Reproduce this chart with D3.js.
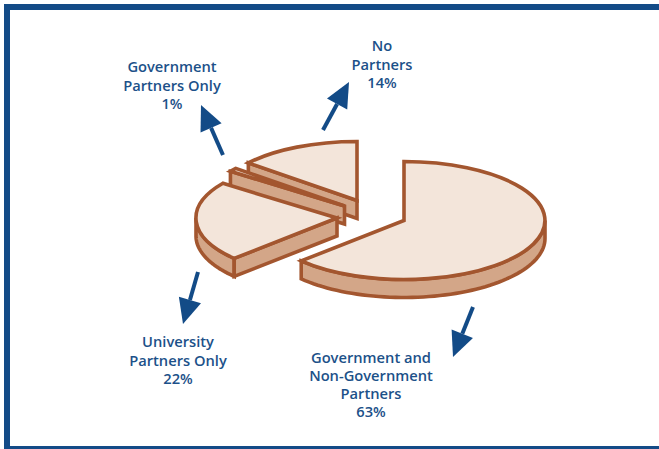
<!DOCTYPE html>
<html>
<head>
<meta charset="utf-8">
<script src="https://cdn.jsdelivr.net/npm/d3@7/dist/d3.min.js"></script>
<style>
  html, body { margin: 0; padding: 0; background: #fff; }
  svg { display: block; }
  text { font-family: "Open Sans", sans-serif; font-weight: 600; font-size: 14.7px; fill: #1c5189; text-anchor: middle; }
</style>
</head>
<body>
<svg id="chart" width="659" height="449"></svg>
<script>
// Share of projects by partner type, clockwise from twelve o'clock
const categories = ["Government and Non-Government Partners", "University Partners Only", "Government Partners Only", "No Partners"];
const shares = [63, 22, 1, 14];
const labelLines = [
  ["Government and", "Non-Government", "Partners", "63%"],
  ["University", "Partners Only", "22%"],
  ["Government", "Partners Only", "1%"],
  ["No", "Partners", "14%"]
];

// Layout of the exploded disc
const rx = 141, ry = 59, depth = 18;
const apexes = [[404, 220.5], [337, 218], [344.5, 206], [357, 200.5]];
const labelAnchors = [[371, 363], [178, 347], [172, 72], [382, 51]];
const arrows = [
  { tail: [473, 307], tip: [453, 357] },
  { tail: [198, 272], tip: [183, 324] },
  { tail: [223, 155], tip: [201, 105] },
  { tail: [323, 130], tip: [349, 82] }
];

const INK = "#a3562f", TOP = "#f3e5da", WALL = "#d3a688", BLUE = "#134b87";
const EDGE = 3.6;

const svg = d3.select("#chart");

// Frame: left, top and bottom rules only
svg.append("path")
  .attr("d", "M7,449V7H659")
  .attr("fill", "none").attr("stroke", BLUE).attr("stroke-width", 6);
svg.append("line").attr("x1", 4).attr("x2", 659).attr("y1", 447.5).attr("y2", 447.5)
  .attr("stroke", BLUE).attr("stroke-width", 3);

const slices = d3.pie().sort(null).value(d => d)(shares);
const arcUnit = d3.arc().innerRadius(0).outerRadius(1);
const rim = (cx, cy, a, dy = 0) => [cx + rx * Math.sin(a), cy - ry * Math.cos(a) + dy];
const outline = d3.line();

// Back-to-front painting: last slice sits furthest from the viewer
d3.range(slices.length - 1, -1, -1).forEach(i => {
  const s = slices[i];
  const [cx, cy] = apexes[i];
  const g = svg.append("g").attr("class", "slice").datum(categories[i]);
  const wallStyle = sel => sel.attr("fill", WALL).attr("stroke", INK)
    .attr("stroke-width", EDGE).attr("stroke-linejoin", "miter");

  // Outer curved wall, only where the rim faces the viewer
  const a0 = Math.max(s.startAngle, Math.PI / 2);
  const a1 = Math.min(s.endAngle, 3 * Math.PI / 2);
  if (a1 > a0) {
    const steps = d3.range(0, 61).map(k => a0 + (a1 - a0) * k / 60);
    const pts = steps.map(a => rim(cx, cy, a)).concat(steps.slice().reverse().map(a => rim(cx, cy, a, depth)));
    g.append("path").attr("d", outline(pts) + "Z").call(wallStyle);
  }

  // Flat cut faces that turn toward the viewer
  [[s.startAngle, Math.sin(s.startAngle) < -1e-6], [s.endAngle, Math.sin(s.endAngle) > 1e-6]]
    .filter(d => d[1])
    .forEach(([a]) => {
      const p = rim(cx, cy, a), q = rim(cx, cy, a, depth);
      g.append("path").attr("d", outline([[cx, cy], p, q, [cx, cy + depth]]) + "Z").call(wallStyle);
    });

  // Top surface: a unit arc squashed into the ellipse
  g.append("path")
    .attr("d", arcUnit(s))
    .attr("transform", `translate(${cx},${cy}) scale(${rx},${ry})`)
    .attr("fill", TOP).attr("stroke", INK).attr("stroke-width", EDGE)
    .attr("stroke-linejoin", "miter")
    .attr("vector-effect", "non-scaling-stroke");
});

// Leader arrows
arrows.forEach(({ tail, tip }) => {
  const ang = Math.atan2(tip[1] - tail[1], tip[0] - tail[0]);
  const ux = Math.cos(ang), uy = Math.sin(ang);
  const headLen = 25, half = 11.5;
  const base = [tip[0] - ux * headLen, tip[1] - uy * headLen];
  svg.append("line")
    .attr("x1", tail[0]).attr("y1", tail[1]).attr("x2", base[0]).attr("y2", base[1])
    .attr("stroke", BLUE).attr("stroke-width", 4);
  svg.append("path")
    .attr("d", outline([tip, [base[0] - uy * half, base[1] + ux * half], [base[0] + uy * half, base[1] - ux * half]]) + "Z")
    .attr("fill", BLUE);
});

// Labels
labelLines.forEach((lines, i) => {
  const [x, y] = labelAnchors[i];
  const t = svg.append("text").attr("x", x).attr("y", y);
  const gap = i === 0 ? 18 : 18.5;
  lines.forEach((line, k) => {
    t.append("tspan").attr("x", x).attr("y", y + k * gap).text(line);
  });
});
</script>
</body>
</html>
